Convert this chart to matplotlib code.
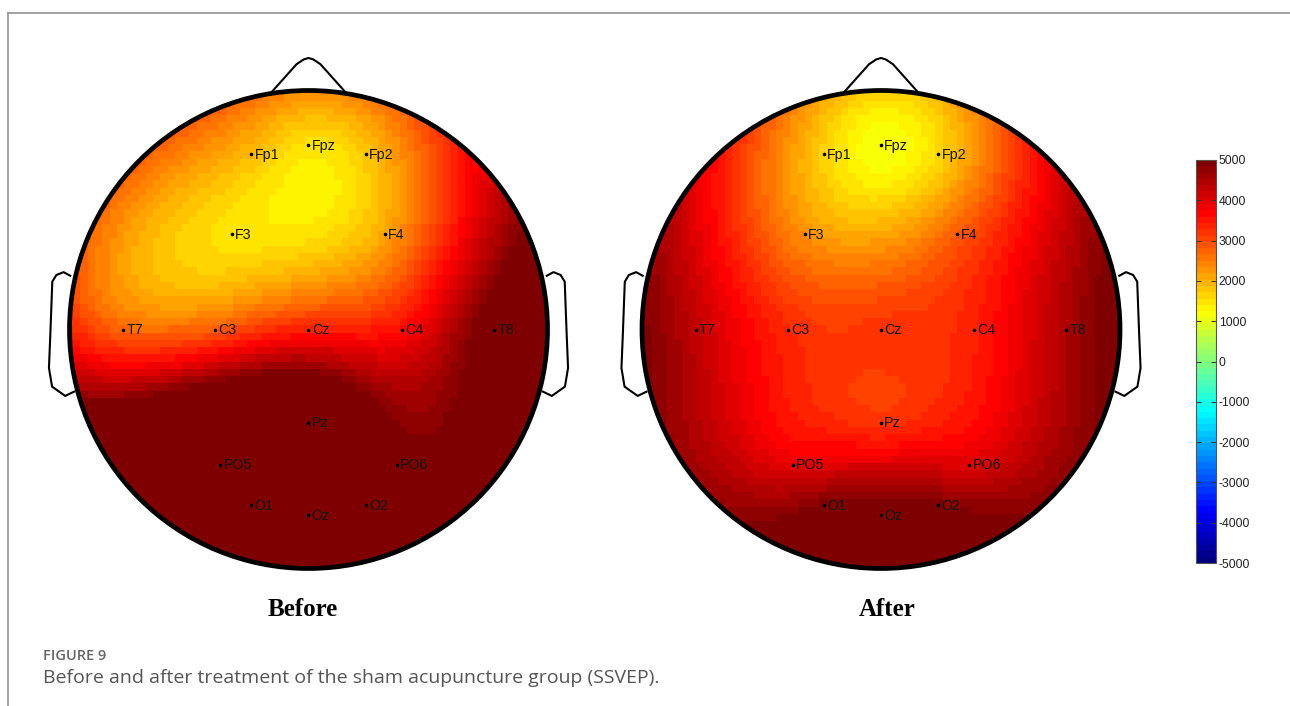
import numpy as np
import matplotlib
matplotlib.use("Agg")
import matplotlib.pyplot as plt
from matplotlib.colors import LinearSegmentedColormap, Normalize
from matplotlib.patches import Circle
from matplotlib.lines import Line2D

# ---- electrode montage (unit head radius, x to the right, y to the nose) ----
channels = ['Fp1', 'Fpz', 'Fp2', 'F3', 'F4', 'T7', 'C3', 'Cz', 'C4', 'T8',
            'Pz', 'PO5', 'PO6', 'O1', 'Oz', 'O2']
chan_x = [-0.24, 0.0, 0.24, -0.32, 0.32, -0.776, -0.39, 0.0, 0.39, 0.776,
          0.0, -0.37, 0.37, -0.24, 0.0, 0.24]
chan_y = [0.735, 0.772, 0.735, 0.40, 0.40, 0.0, 0.0, 0.0, 0.0, 0.0,
          -0.39, -0.565, -0.565, -0.735, -0.776, -0.735]

# ---- SSVEP amplitude per channel ----
before_vals = [1900, 1500, 1800, 1500, 2100, 2700, 2800, 3400, 3600, 5300,
               6500, 7500, 5300, 7000, 7000, 7000]
after_vals = [1700, 1100, 1600, 2300, 2800, 4300, 3300, 3200, 3400, 4500,
              3200, 3900, 4000, 4900, 5200, 4900]

panel_titles = ['Before', 'After']
cbar_ticks = [-5000, -4000, -3000, -2000, -1000, 0, 1000, 2000, 3000, 4000, 5000]
vmin, vmax = -5000, 5000

caption_head = 'FIGURE 9'
caption_text = 'Before and after treatment of the sham acupuncture group (SSVEP).'

# ---- figure ----
W, H = 1290, 706
fig = plt.figure(figsize=(W / 100, H / 100), dpi=100)
fig.patch.set_facecolor('white')

# MATLAB-style jet with 64 levels
jet_cdict = {
    'red':   [(0, 0, 0), (0.375, 0, 0), (0.625, 1, 1), (0.875, 1, 1), (1, 0.5, 0.5)],
    'green': [(0, 0, 0), (0.125, 0, 0), (0.375, 1, 1), (0.625, 1, 1), (0.875, 0, 0), (1, 0, 0)],
    'blue':  [(0, 0.5, 0.5), (0.125, 1, 1), (0.375, 1, 1), (0.625, 0, 0), (1, 0, 0)],
}
cmap = LinearSegmentedColormap('jet64', jet_cdict, N=64)
norm = Normalize(vmin=vmin, vmax=vmax)


def biharmonic(xe, ye, ve, xq, yq):
    """Biharmonic spline surface through the channel values (griddata 'v4')."""
    xe, ye, ve = map(np.asarray, (xe, ye, ve))
    d = np.hypot(xe[:, None] - xe[None, :], ye[:, None] - ye[None, :])
    with np.errstate(divide='ignore', invalid='ignore'):
        g = np.where(d > 0, d ** 2 * (np.log(d) - 1), 0.0)
    w = np.linalg.solve(g, ve)
    dq = np.hypot(xq.ravel()[:, None] - xe[None, :], yq.ravel()[:, None] - ye[None, :])
    with np.errstate(divide='ignore', invalid='ignore'):
        gq = np.where(dq > 0, dq ** 2 * (np.log(dq) - 1), 0.0)
    return (gq @ w).reshape(xq.shape)


R_PX = 239.0          # head radius in pixels
HALF = 290.0          # half size of each head axes in pixels
centers = [(308.5, 329.5), (881.0, 329.5)]
title_x = [303, 887]

nose_x = [-0.16, -0.05, -0.02, 0.0, 0.02, 0.05, 0.16]
nose_y = [0.987, 1.11, 1.13, 1.136, 1.13, 1.11, 0.987]
ear_x = [0.997, 1.025, 1.055, 1.072, 1.080, 1.086, 1.073, 1.018, 0.981]
ear_y = [0.225, 0.240, 0.228, 0.200, -0.015, -0.161, -0.239, -0.278, -0.260]

ngrid = 67
gx = np.linspace(-1, 1, ngrid)
GX, GY = np.meshgrid(gx, gx)
step = gx[1] - gx[0]

for (cx, cy), vals, title, tx in zip(centers, [before_vals, after_vals], panel_titles, title_x):
    ax = fig.add_axes([(cx - HALF) / W, (H - cy - HALF) / H, 2 * HALF / W, 2 * HALF / H])
    lim = HALF / R_PX
    ax.set_xlim(-lim, lim)
    ax.set_ylim(-lim, lim)
    ax.set_aspect('equal')
    ax.axis('off')

    Z = biharmonic(chan_x, chan_y, vals, GX, GY)
    Z = np.ma.masked_where(np.hypot(GX, GY) > 1.02, Z)
    im = ax.imshow(Z, origin='lower', cmap=cmap, norm=norm, interpolation='nearest',
                   extent=[-1 - step / 2, 1 + step / 2, -1 - step / 2, 1 + step / 2], zorder=1)
    clip = Circle((0, 0), 1.0, transform=ax.transData)
    im.set_clip_path(clip)

    # head outline, nose and ears
    ax.add_patch(Circle((0, 0), 1.0, fill=False, lw=3.4, ec='black', zorder=3))
    ax.plot(nose_x, nose_y, color='black', lw=1.5, zorder=3, solid_joinstyle='round')
    ax.plot(ear_x, ear_y, color='black', lw=1.5, zorder=3, solid_joinstyle='round')
    ax.plot([-v for v in ear_x], ear_y, color='black', lw=1.5, zorder=3, solid_joinstyle='round')

    # channel markers and names
    ax.plot(chan_x, chan_y, 'o', ms=2.6, color='black', zorder=4, mec='none')
    for name, x, y in zip(channels, chan_x, chan_y):
        ax.annotate(name, (x, y), xytext=(2.4, -0.5), textcoords='offset points',
                    ha='left', va='center', fontsize=10.3, family='Liberation Sans',
                    color='#151515', zorder=5)

    fig.text(tx / W, 1 - 610 / H, title, ha='center', va='center', fontsize=18,
             fontweight='bold', family='Liberation Serif')

# ---- colour bar ----
cax = fig.add_axes([1196 / W, (H - 563) / H, 20 / W, 403 / H])
cb = fig.colorbar(plt.cm.ScalarMappable(norm=norm, cmap=cmap), cax=cax, ticks=cbar_ticks)
cb.outline.set_edgecolor('#555555')
cb.outline.set_linewidth(0.8)
cax.tick_params(direction='in', length=3.5, width=0.7, color='#333333', left=True, right=True,
                labelsize=8.8, pad=2)
cax.set_yticklabels([str(t) for t in cbar_ticks])
for lab in cax.get_yticklabels():
    lab.set_family('Liberation Sans')
    lab.set_color('#222222')

# ---- frame and caption ----
fig.add_artist(Line2D([8 / W, 1], [1 - 13 / H, 1 - 13 / H], color='#9a9a9a', lw=1.3))
fig.add_artist(Line2D([8 / W, 8 / W], [0, 1 - 13 / H], color='#9a9a9a', lw=1.3))
fig.text(43 / W, 1 - 656 / H, caption_head, ha='left', va='center', fontsize=10.5,
         family='Open Sans', fontweight='semibold', color='#666666')
fig.text(43 / W, 1 - 678 / H, caption_text, ha='left', va='center', fontsize=14,
         family='Open Sans', color='#555555')

fig.savefig('out.png', dpi=100, facecolor='white')
